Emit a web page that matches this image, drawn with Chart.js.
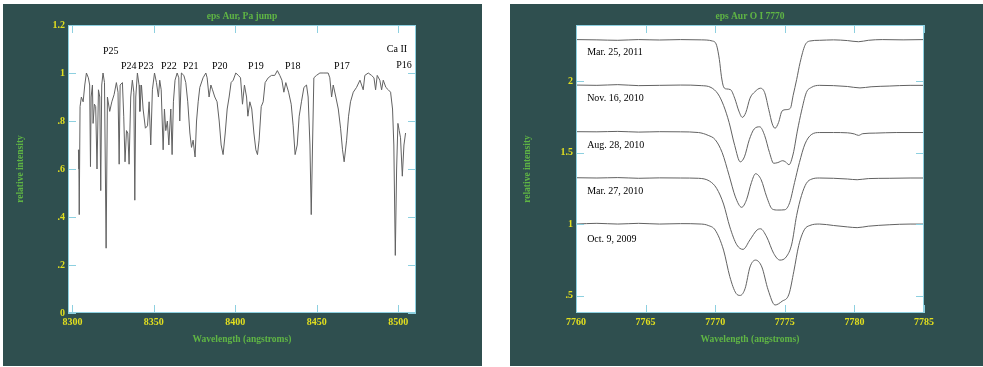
<!DOCTYPE html>
<html>
<head>
<meta charset="utf-8">
<script src="https://cdn.jsdelivr.net/npm/chart.js@4"></script>
<style>
  html, body { margin: 0; padding: 0; background: #ffffff; }
  body { width: 983px; height: 367px; position: relative; overflow: hidden; }
  canvas { position: absolute; background: #2f4f4f; }
  #chart-pa-jump { left: 3px; top: 4px; }
  #chart-oi-7770 { left: 510px; top: 4px; }
</style>
</head>
<body>
<canvas id="chart-pa-jump" width="479" height="362"></canvas>
<canvas id="chart-oi-7770" width="473" height="362"></canvas>
<script>
// --- left panel: eps Aur, Paschen jump ---
const paWavelength = [
  8303.7, 8304.0, 8304.2, 8304.7, 8305.5, 8306.6, 8307.6, 8308.6, 8309.8, 8310.6,
  8311.1, 8311.5, 8312.3, 8312.7, 8313.5, 8314.3, 8315.1, 8316.0, 8316.8, 8317.4,
  8318.0, 8318.8, 8319.7, 8320.7, 8321.5, 8322.9, 8324.2, 8325.6, 8327.0, 8328.0,
  8328.7, 8329.3, 8330.7, 8331.5, 8332.3, 8333.2, 8334.0, 8334.8, 8335.8, 8336.8,
  8337.7, 8338.3, 8338.9, 8339.9, 8340.9, 8341.4, 8342.4, 8343.4, 8344.8, 8346.1,
  8347.1, 8348.1, 8349.1, 8350.4, 8351.6, 8352.8, 8353.6, 8354.5, 8355.7, 8356.5,
  8357.3, 8358.3, 8359.2, 8360.4, 8361.2, 8362.0, 8363.0, 8364.3, 8365.3, 8365.9,
  8366.9, 8368.4, 8369.6, 8370.8, 8372.1, 8373.1, 8374.1, 8375.3, 8376.2, 8377.2,
  8378.2, 8380.2, 8381.9, 8382.7, 8383.9, 8385.0, 8386.0, 8387.4, 8388.8, 8390.1,
  8391.3, 8392.5, 8393.8, 8395.0, 8396.2, 8397.4, 8398.7, 8400.3, 8401.9, 8403.2,
  8404.4, 8405.6, 8406.9, 8407.7, 8408.9, 8410.1, 8411.4, 8412.6, 8413.6, 8414.6,
  8415.9, 8417.1, 8418.3, 8420.2, 8422.2, 8424.2, 8425.8, 8427.3, 8428.6, 8429.8,
  8431.0, 8432.7, 8434.3, 8435.5, 8436.7, 8438.0, 8439.2, 8440.6, 8442.1, 8443.7,
  8444.7, 8445.8, 8446.6, 8447.4, 8448.2, 8449.8, 8451.9, 8453.9, 8457.0, 8458.0,
  8459.1, 8460.1, 8461.7, 8463.2, 8464.6, 8465.8, 8466.8, 8468.3, 8469.5, 8470.7,
  8472.4, 8474.4, 8476.5, 8478.5, 8479.5, 8481.6, 8483.6, 8485.1, 8486.1, 8487.1,
  8488.7, 8489.8, 8490.8, 8492.4, 8493.9, 8495.3, 8496.5, 8497.3, 8498.2, 8499.0,
  8499.8, 8500.6, 8501.4, 8502.5, 8503.5, 8504.5
];
const paIntensity = [
  0.68, 0.60, 0.41, 0.86, 0.90, 0.88, 0.95, 1.00, 0.98, 0.95,
  0.61, 0.90, 0.95, 0.79, 0.87, 0.86, 0.60, 0.93, 0.90, 0.51,
  0.95, 1.00, 0.96, 0.27, 0.90, 0.84, 0.88, 0.91, 0.96, 0.92,
  0.62, 0.95, 0.96, 0.82, 0.63, 0.76, 0.75, 0.62, 0.90, 0.97,
  0.92, 0.47, 0.90, 1.00, 0.95, 0.84, 0.95, 0.85, 0.77, 0.78,
  0.88, 0.70, 0.93, 1.00, 0.96, 0.90, 0.97, 0.93, 0.68, 0.85,
  0.76, 0.80, 0.70, 0.85, 0.66, 0.88, 0.97, 1.00, 0.98, 0.80,
  1.00, 0.99, 0.96, 0.88, 0.75, 0.69, 0.72, 0.65, 0.80, 0.88,
  0.94, 0.98, 1.00, 0.98, 0.90, 0.95, 0.93, 0.90, 0.88, 0.80,
  0.70, 0.66, 0.75, 0.85, 0.90, 0.96, 0.97, 1.00, 0.99, 0.98,
  0.87, 0.95, 0.90, 0.82, 0.88, 0.85, 0.75, 0.68, 0.66, 0.72,
  0.86, 0.88, 0.96, 0.98, 0.99, 0.99, 1.01, 0.99, 0.97, 0.92,
  0.96, 0.92, 0.87, 0.78, 0.66, 0.70, 0.82, 0.88, 0.94, 0.95,
  0.90, 0.70, 0.41, 0.70, 0.98, 0.99, 1.00, 1.00, 1.00, 0.98,
  0.90, 0.95, 0.90, 0.85, 0.77, 0.68, 0.63, 0.72, 0.82, 0.88,
  0.92, 0.94, 0.97, 0.93, 0.99, 1.00, 0.99, 0.98, 0.93, 0.99,
  0.97, 0.93, 0.97, 0.94, 0.93, 0.92, 0.85, 0.70, 0.24, 0.60,
  0.79, 0.76, 0.73, 0.57, 0.70, 0.75
];
const paTicksX = [8300, 8350, 8400, 8450, 8500];
const paTicksY = [0, 0.2, 0.4, 0.6, 0.8, 1, 1.2];
const paLineNames = ["P25", "P24", "P23", "P22", "P21", "P20", "P19", "P18", "P17", "Ca II", "P16"];
const paLineAt = [8323.5, 8334.6, 8345.0, 8359.2, 8372.7, 8390.5, 8412.6, 8435.3, 8465.4, 8499.2, 8503.5];
const paLineLevel = [1.092, 1.029, 1.029, 1.029, 1.029, 1.029, 1.029, 1.029, 1.029, 1.10, 1.033];

// --- right panel: eps Aur O I 7770, one trace per date ---
const oiDates = ["Mar. 25, 2011", "Nov. 16, 2010", "Aug. 28, 2010", "Mar. 27, 2010", "Oct. 9, 2009"];
const oiDateLevel = [2.2, 1.876, 1.552, 1.226, 0.895];

const oiWaveMar2011 = [7760, 7761.5, 7763, 7764.5, 7766, 7767.5, 7769, 7769.8, 7770.1, 7770.3, 7770.45, 7770.6, 7770.8, 7771.1, 7771.4, 7771.7, 7771.95, 7772.2, 7772.5, 7772.85, 7773.25, 7773.55, 7773.85, 7774.1, 7774.3, 7774.55, 7774.8, 7775.1, 7775.4, 7775.6, 7775.85, 7776.1, 7776.45, 7776.8, 7777.5, 7778.5, 7779.5, 7780.3, 7781, 7782, 7783.5, 7785];
const oiFluxMar2011 = [2.29, 2.288, 2.285, 2.29, 2.287, 2.29, 2.288, 2.28, 2.25, 2.15, 2.03, 1.96, 1.945, 1.94, 1.88, 1.79, 1.746, 1.78, 1.88, 1.925, 1.95, 1.92, 1.80, 1.70, 1.67, 1.71, 1.79, 1.80, 1.81, 1.90, 2.01, 2.13, 2.25, 2.28, 2.285, 2.288, 2.283, 2.275, 2.285, 2.29, 2.288, 2.29];

const oiWaveNov2010 = [7760, 7761.5, 7763, 7764.5, 7766, 7767.5, 7769, 7769.7, 7770.2, 7770.6, 7771.0, 7771.4, 7771.8, 7772.1, 7772.45, 7772.8, 7773.2, 7773.55, 7773.9, 7774.2, 7774.5, 7774.85, 7775.05, 7775.3, 7775.6, 7775.9, 7776.2, 7776.55, 7776.9, 7777.5, 7778.5, 7779.5, 7780.4, 7781.2, 7782.5, 7784, 7785];
const oiFluxNov2010 = [1.972, 1.97, 1.975, 1.968, 1.97, 1.972, 1.968, 1.955, 1.91, 1.83, 1.71, 1.55, 1.435, 1.47, 1.59, 1.665, 1.68, 1.62, 1.50, 1.425, 1.43, 1.443, 1.435, 1.415, 1.49, 1.65, 1.79, 1.92, 1.955, 1.97, 1.968, 1.962, 1.952, 1.96, 1.965, 1.97, 1.97];

const oiWaveAug2010 = [7760, 7761.5, 7763, 7764.5, 7766, 7767.5, 7768.8, 7769.5, 7770.0, 7770.5, 7771.0, 7771.45, 7771.9, 7772.25, 7772.6, 7772.9, 7773.3, 7773.7, 7774.1, 7774.5, 7775.0, 7775.35, 7775.7, 7776.05, 7776.45, 7776.9, 7777.5, 7778.5, 7779.5, 7780.0, 7780.3, 7780.6, 7781.5, 7783, 7785];
const oiFluxAug2010 = [1.646, 1.645, 1.648, 1.643, 1.646, 1.645, 1.64, 1.62, 1.59, 1.50, 1.34, 1.19, 1.117, 1.17, 1.29, 1.352, 1.31, 1.19, 1.105, 1.098, 1.10, 1.15, 1.29, 1.43, 1.56, 1.625, 1.64, 1.64, 1.638, 1.63, 1.62, 1.632, 1.636, 1.64, 1.64];

const oiWaveMar2010 = [7760, 7761.5, 7763, 7764.5, 7766, 7767.5, 7768.8, 7769.6, 7770.1, 7770.6, 7771.05, 7771.55, 7772.0, 7772.5, 7773.0, 7773.25, 7773.7, 7774.2, 7774.65, 7775.1, 7775.5, 7775.85, 7776.2, 7776.55, 7776.95, 7777.5, 7778.5, 7779.5, 7780.2, 7781, 7782.5, 7784, 7785];
const oiFluxMar2010 = [1.324, 1.322, 1.325, 1.32, 1.323, 1.322, 1.32, 1.30, 1.25, 1.14, 0.98, 0.855, 0.823, 0.89, 0.958, 0.967, 0.91, 0.795, 0.748, 0.77, 0.86, 1.06, 1.20, 1.285, 1.315, 1.322, 1.32, 1.315, 1.31, 1.318, 1.32, 1.322, 1.322];

const oiWaveOct2009 = [7760, 7761.5, 7763, 7764.5, 7766, 7767.5, 7769, 7769.5, 7770.0, 7770.6, 7771.05, 7771.5, 7771.8, 7772.15, 7772.5, 7772.9, 7773.35, 7773.8, 7774.3, 7774.8, 7775.3, 7775.65, 7776.0, 7776.4, 7776.8, 7777.5, 7778.5, 7779.5, 7780.2, 7781, 7782.5, 7784, 7785];
const oiFluxOct2009 = [1.0, 1.005, 1.0, 1.005, 1.0, 1.003, 1.0, 0.99, 0.958, 0.818, 0.632, 0.515, 0.501, 0.55, 0.70, 0.748, 0.70, 0.54, 0.434, 0.46, 0.51, 0.67, 0.85, 0.96, 0.99, 1.0, 0.99, 0.98, 0.975, 0.985, 0.995, 1.0, 1.0];

const oiTicksX = [7760, 7765, 7770, 7775, 7780, 7785];
const oiTicksY = [0.5, 1, 1.5, 2];

const SERIF = "'Liberation Serif', 'Times New Roman', serif";
const PANEL_TEXT = "#5fb544";
const TICK_TEXT = "#e2df1e";
const FRAME = "#8dd0e0";
const TRACE = "#626262";
const tickFont = { family: SERIF, size: 10, weight: "bold" };
const titleFont = { family: SERIF, size: 9.5, weight: "bold" };

function formatTick(value) {
  const text = String(Number(value.toFixed(2)));
  return text.startsWith("0.") ? text.slice(1) : text;
}

function toPoints(xs, ys) {
  return xs.map((x, i) => ({ x, y: ys[i] }));
}

// white plot area, cyan frame and inward tick marks on all four sides
const framePlugin = {
  id: "frame",
  beforeDraw(chart) {
    const { ctx, chartArea: a } = chart;
    ctx.save();
    ctx.fillStyle = "#ffffff";
    ctx.fillRect(a.left, a.top, a.right - a.left, a.bottom - a.top);
    ctx.restore();
  },
  afterDraw(chart) {
    const { ctx, chartArea: a, scales } = chart;
    const len = 8;
    ctx.save();
    ctx.strokeStyle = FRAME;
    ctx.lineWidth = 1;
    ctx.beginPath();
    scales.x.ticks.forEach((t) => {
      const px = Math.round(scales.x.getPixelForValue(t.value)) + 0.5;
      ctx.moveTo(px, a.top);
      ctx.lineTo(px, a.top + len);
      ctx.moveTo(px, a.bottom);
      ctx.lineTo(px, a.bottom - len);
    });
    scales.y.ticks.forEach((t) => {
      const py = Math.round(scales.y.getPixelForValue(t.value)) + 0.5;
      ctx.moveTo(a.left, py);
      ctx.lineTo(a.left + len, py);
      ctx.moveTo(a.right, py);
      ctx.lineTo(a.right - len, py);
    });
    ctx.stroke();
    ctx.strokeRect(a.left + 0.5, a.top + 0.5, a.right - a.left - 1, a.bottom - a.top - 1);
    ctx.restore();
  }
};

function makeLabelPlugin(texts, xs, ys, align) {
  return {
    id: "lineLabels",
    afterDatasetsDraw(chart) {
      const { ctx, scales } = chart;
      ctx.save();
      ctx.font = `10px ${SERIF}`;
      ctx.fillStyle = "#000000";
      ctx.textAlign = align;
      ctx.textBaseline = "middle";
      texts.forEach((text, i) => {
        ctx.fillText(text, scales.x.getPixelForValue(xs[i]), scales.y.getPixelForValue(ys[i]));
      });
      ctx.restore();
    }
  };
}

function panelOptions(p) {
  return {
    responsive: false,
    animation: false,
    devicePixelRatio: 1,
    layout: { padding: { left: 0, right: p.rightPad, top: 0, bottom: 0 } },
    plugins: {
      legend: { display: false },
      tooltip: { enabled: false },
      title: {
        display: true,
        text: p.title,
        color: PANEL_TEXT,
        font: titleFont,
        fullSize: false,
        padding: { top: 7.3, bottom: 2.3 }
      }
    },
    scales: {
      x: {
        type: "linear",
        min: p.xMin,
        max: p.xMax,
        afterBuildTicks: (scale) => { scale.ticks = p.xTicks.map((value) => ({ value })); },
        afterFit: (scale) => { scale.height = 53; },
        grid: { display: false, drawTicks: false },
        border: { display: false },
        ticks: {
          color: TICK_TEXT,
          font: tickFont,
          padding: 3,
          maxRotation: 0,
          autoSkip: false,
          callback: (value) => String(value)
        },
        title: {
          display: true,
          text: "Wavelength (angstroms)",
          color: PANEL_TEXT,
          font: titleFont,
          padding: { top: 0, bottom: 20.3 }
        }
      },
      y: {
        type: "linear",
        min: p.yMin,
        max: p.yMax,
        afterBuildTicks: (scale) => { scale.ticks = p.yTicks.map((value) => ({ value })); },
        afterFit: (scale) => { scale.width = p.yWidth; },
        grid: { display: false, drawTicks: false },
        border: { display: false },
        ticks: {
          color: TICK_TEXT,
          font: tickFont,
          padding: 3,
          autoSkip: false,
          callback: (value) => formatTick(value)
        },
        title: {
          display: true,
          text: "relative intensity",
          color: PANEL_TEXT,
          font: titleFont,
          padding: { top: 12.3, bottom: 0 }
        }
      }
    }
  };
}

function buildPaJumpChart() {
  const ctx = document.getElementById("chart-pa-jump").getContext("2d");
  return new Chart(ctx, {
    type: "line",
    data: {
      datasets: [
        {
          data: toPoints(paWavelength, paIntensity),
          borderColor: TRACE,
          borderWidth: 1,
          pointRadius: 0,
          tension: 0
        }
      ]
    },
    options: panelOptions({
      title: "eps Aur, Pa jump",
      xMin: 8297.3, xMax: 8510.9, xTicks: paTicksX,
      yMin: 0, yMax: 1.2, yTicks: paTicksY,
      yWidth: 65, rightPad: 66
    }),
    plugins: [framePlugin, makeLabelPlugin(paLineNames, paLineAt, paLineLevel, "center")]
  });
}

function buildOxygenChart() {
  const ctx = document.getElementById("chart-oi-7770").getContext("2d");
  const traces = [
    [oiWaveMar2011, oiFluxMar2011],
    [oiWaveNov2010, oiFluxNov2010],
    [oiWaveAug2010, oiFluxAug2010],
    [oiWaveMar2010, oiFluxMar2010],
    [oiWaveOct2009, oiFluxOct2009]
  ];
  return new Chart(ctx, {
    type: "line",
    data: {
      datasets: traces.map(([wave, flux], i) => ({
        label: oiDates[i],
        data: toPoints(wave, flux),
        borderColor: TRACE,
        borderWidth: 1,
        pointRadius: 0,
        cubicInterpolationMode: "monotone"
      }))
    },
    options: panelOptions({
      title: "eps Aur O I 7770",
      xMin: 7760, xMax: 7785, xTicks: oiTicksX,
      yMin: 0.378, yMax: 2.392, yTicks: oiTicksY,
      yWidth: 66, rightPad: 59
    }),
    plugins: [framePlugin, makeLabelPlugin(oiDates, oiDates.map(() => 7760.8), oiDateLevel, "left")]
  });
}

buildPaJumpChart();
buildOxygenChart();
</script>
</body>
</html>
